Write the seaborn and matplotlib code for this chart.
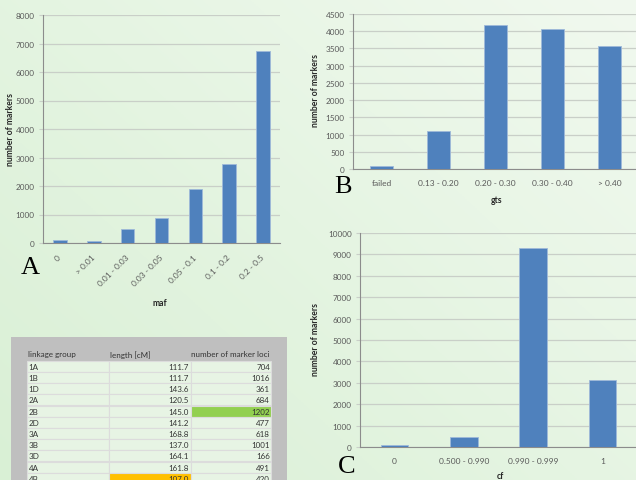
import numpy as np
import pandas as pd
import matplotlib
matplotlib.use("Agg")
import matplotlib.pyplot as plt
from matplotlib.patches import Rectangle
from matplotlib.colors import to_rgb
import seaborn as sns

# Panel A: minor allele frequency
maf_bins = ["0", "> 0.01", "0.01 - 0.03", "0.03 - 0.05", "0.05 - 0.1", "0.1 - 0.2", "0.2 - 0.5"]
maf_counts = [100, 60, 490, 890, 1910, 2760, 6750]

# Panel B: gts
gts_bins = ["failed", "0.13 - 0.20", "0.20 - 0.30", "0.30 - 0.40", "> 0.40"]
gts_counts = [100, 1090, 4170, 4060, 3580]

# Panel C: cf
cf_bins = ["0", "0.500 - 0.990", "0.990 - 0.999", "1"]
cf_counts = [100, 470, 9300, 3130]

# table of linkage groups
lg_names = ["1A", "1B", "1D", "2A", "2B", "2D", "3A", "3B", "3D", "4A", "4B"]
lg_length = ["111.7", "111.7", "143.6", "120.5", "145.0", "141.2", "168.8", "137.0", "164.1", "161.8", "107.0"]
lg_loci = ["704", "1016", "361", "684", "1202", "477", "618", "1001", "166", "491", "420"]

BAR = "#4f81bd"
TICK = "#595959"
LABEL = "#262626"
W, H = 636, 481

sns.set_style("white")
plt.rcParams["font.family"] = ["Lato", "DejaVu Sans"]

fig = plt.figure(figsize=(W / 100, H / 100), dpi=100)

# pale green gradient background
bg = fig.add_axes([0, 0, 1, 1], zorder=-5)
yy, xx = np.mgrid[0:1:200j, 0:1:260j]
t = np.clip(0.55 * xx + 0.45 * (1 - yy), 0, 1)[..., None]
c0 = np.array(to_rgb("#d9f0d5"))
c1 = np.array(to_rgb("#f1f9ef"))
bg.imshow(c0 * (1 - t) + c1 * t, aspect="auto", extent=[0, 1, 0, 1], origin="upper")
bg.set_axis_off()


def px_axes(left, top, right, bottom):
    return fig.add_axes([left / W, 1 - bottom / H, (right - left) / W, (bottom - top) / H])


def excel_bars(ax, cats, vals, ymax, step, xlabel, lab_xy, ylab_xy, rot=0):
    df = pd.DataFrame({"cat": cats, "n": vals})
    sns.barplot(data=df, x="cat", y="n", order=cats, color=BAR, width=0.4,
                saturation=1, edgecolor="#9fb9d9", linewidth=0.6, ax=ax, zorder=3)
    ax.set_facecolor("none")
    n = len(cats)
    ax.set_xlim(-0.5, n - 0.5)
    ax.set_ylim(0, ymax)
    ax.set_yticks(np.arange(0, ymax + 1, step))
    ax.grid(axis="y", color="#c9cfc8", linewidth=0.9, zorder=0)
    ax.set_xticks(np.arange(-0.5, n, 1), minor=True)
    ax.tick_params(axis="x", which="minor", length=3, color="#8c8c8c", width=0.8, direction="out")
    ax.tick_params(axis="x", which="major", length=0, labelsize=6, labelcolor=TICK, pad=7)
    ax.tick_params(axis="y", length=3, color="#c9cfc8", width=0.8, labelsize=5.9,
                   labelcolor=TICK, pad=3, left=True)
    if rot:
        plt.setp(ax.get_xticklabels(), rotation=rot, ha="right", va="center",
                 rotation_mode="anchor")
    for s in ["top", "right"]:
        ax.spines[s].set_visible(False)
    ax.spines["bottom"].set_color("#8c8c8c")
    ax.spines["left"].set_color("#8c8c8c")
    ax.spines["bottom"].set_linewidth(0.8)
    ax.spines["left"].set_linewidth(0.8)
    ax.set_xlabel(xlabel, fontsize=6.2, fontweight="bold", color=LABEL)
    ax.set_ylabel("number of markers", fontsize=6.2, fontweight="bold", color=LABEL)
    ax.xaxis.set_label_coords(*lab_xy)
    ax.xaxis.label.set_va("center")
    ax.yaxis.set_label_coords(*ylab_xy)
    ax.yaxis.label.set_va("center")


axA = px_axes(43, 16, 280, 244)
excel_bars(axA, maf_bins, maf_counts, 8000, 1000, "maf", (0.494, -0.259), (-0.137, 0.5), rot=45)
axA.tick_params(axis="x", which="major", pad=9)

axB = px_axes(353, 15, 638, 170)
excel_bars(axB, gts_bins, gts_counts, 4500, 500, "gts", (0.502, -0.194), (-0.133, 0.51))

axC = px_axes(360, 234, 637, 448)
excel_bars(axC, cf_bins, cf_counts, 10000, 1000, "cf", (0.505, -0.131), (-0.159, 0.505))

# panel letters
for letter, x, y in [("A", 30, 268), ("B", 343, 187), ("C", 347, 467)]:
    fig.text(x / W, 1 - y / H, letter, fontsize=19, family="Liberation Serif",
             ha="center", va="center", color="black")

# table panel
tb = fig.add_axes([0, 0, 1, 1], zorder=2)
tb.set_xlim(0, W)
tb.set_ylim(H, 0)
tb.set_axis_off()
tb.add_patch(Rectangle((11, 338), 276, 150, color="#bfbfbf", lw=0))
head_y = 355
tb.text(28, head_y, "linkage group", fontsize=5.8, color="#333333", va="center")
tb.text(110, head_y, "length [cM]", fontsize=5.8, color="#333333", va="center")
tb.text(191, head_y, "number of marker loci", fontsize=5.8, color="#333333", va="center")
cols = [(27, 108.5), (108.5, 190.5), (190.5, 271)]
row_h = 11.2
top0 = 361.7
for i, (g, ln, lc) in enumerate(zip(lg_names, lg_length, lg_loci)):
    y0 = top0 + i * row_h
    fills = ["#e7f4e4", "#e7f4e4", "#e7f4e4"]
    if g == "2B":
        fills[2] = "#92d050"
    if g == "4B":
        fills[1] = "#ffc000"
    for (xa, xb), fc in zip(cols, fills):
        tb.add_patch(Rectangle((xa, y0), xb - xa, row_h, facecolor=fc,
                               edgecolor="#dcdcdc", lw=0.8))
    yc = y0 + row_h / 2
    tb.text(28.5, yc, g, fontsize=5.8, color="#333333", va="center")
    tb.text(189, yc, ln, fontsize=5.8, color="#333333", va="center", ha="right")
    tb.text(270, yc, lc, fontsize=5.8, color="#333333", va="center", ha="right")

fig.savefig("out.png", dpi=100)
